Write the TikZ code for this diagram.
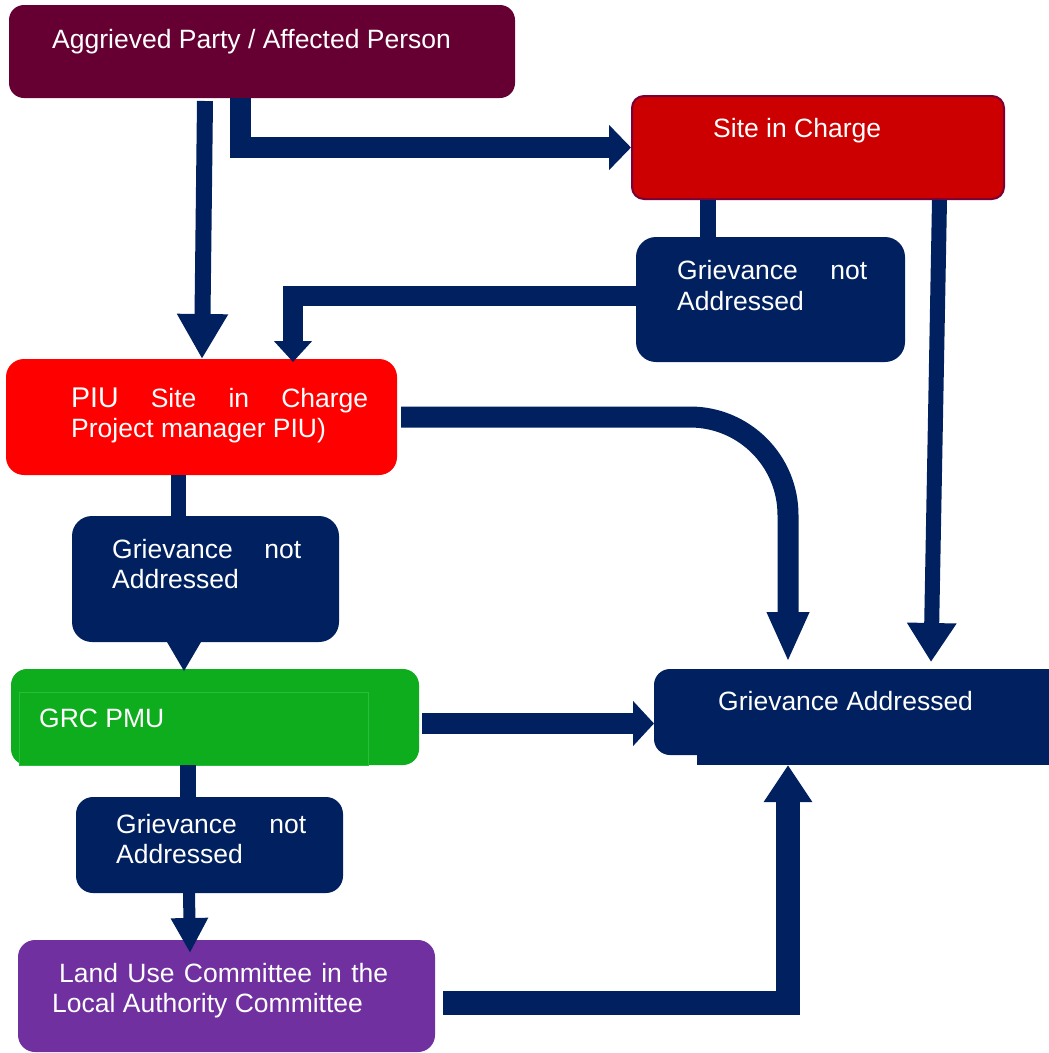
\documentclass[tikz,border=0pt]{standalone}
\usepackage{fontspec}
\setmainfont{Liberation Sans}
\usetikzlibrary{arrows.meta}
\definecolor{aggr}{HTML}{660033}
\definecolor{sitec}{HTML}{CC0000}
\definecolor{siteb}{HTML}{7A0036}
\definecolor{piuc}{HTML}{FF0000}
\definecolor{navy}{HTML}{002060}
\definecolor{grcc}{RGB}{14,173,30}
\definecolor{grcl}{RGB}{40,190,60}
\definecolor{landc}{HTML}{7030A0}
\begin{document}
\begin{tikzpicture}[x=1pt,y=-1pt,
  box/.style={rounded corners=#1, inner sep=0pt, outer sep=0pt, anchor=north west},
  txt/.style={text=white, font=\fontsize{26.5}{31}\selectfont, inner sep=0pt, anchor=base west},
  conn/.style={draw=navy, line join=miter}]
\useasboundingbox (0,0) rectangle (1049,1053);
\clip (0,0) rectangle (1049,1053);

% boxes
\node[box=15pt, fill=aggr, minimum width=506pt, minimum height=93pt] (agg) at (9,5) {};
\node[box=12pt, fill=sitec, draw=siteb, line width=2pt, minimum width=372pt, minimum height=103pt] (site) at (632,96) {};
\node[box=20pt, fill=navy, minimum width=269pt, minimum height=125pt] (g1) at (636,237) {};
\node[box=18pt, fill=piuc, minimum width=391pt, minimum height=116pt] (piu) at (6,359) {};
\node[box=20pt, fill=navy, minimum width=267pt, minimum height=126pt] (g2) at (72,516) {};
\node[box=16pt, fill=grcc, minimum width=408pt, minimum height=96pt] (grc) at (11,669) {};
\fill[grcc, draw=grcl, line width=0.8pt] ([xshift=8pt,yshift=-23pt]grc.north west) rectangle ([xshift=357pt]grc.south west);
\node[box=16pt, fill=navy, minimum width=410pt, minimum height=86pt] (ga) at (654,669) {};
\fill[navy] ([xshift=43pt]ga.north west) rectangle ([xshift=43pt,yshift=-10pt]ga.south east);
\node[box=17pt, fill=navy, minimum width=267pt, minimum height=96pt] (g3) at (76,797) {};
\node[box=17pt, fill=landc, minimum width=417pt, minimum height=112pt] (land) at (18,940) {};

% texts
\node[txt] (aggT) at (52,48) {Aggrieved Party / Affected Person};
\node[txt] (siteT) at (713,137) {Site in Charge};
\node[txt] (g1a) at (677,279) {\hbox to 190pt{Grievance\hfill not}};
\node[txt] (g1b) at (677,310) {Addressed};
\node[txt] (piuA) at (71,407) {\hbox to 297pt{{\fontsize{28.5}{31}\selectfont PIU}\hfill Site\hfill in\hfill Charge}};
\node[txt] (piuB) at (71,437) {Project manager PIU)};
\node[txt] (g2a) at (112,558) {\hbox to 189pt{Grievance\hfill not}};
\node[txt] (g2b) at (112,588) {Addressed};
\node[txt] (grcT) at (39,727) {GRC PMU};
\node[txt] (gaT) at (718,710) {Grievance Addressed};
\node[txt] (g3a) at (116,833) {\hbox to 190pt{Grievance\hfill not}};
\node[txt] (g3b) at (116,863) {Addressed};
\node[txt] (landA) at (59,982) {\makebox[329pt][s]{Land Use Committee in the}};
\node[txt] (landB) at (52,1012) {Local Authority Committee};

% connectors
\draw[conn, line width=16pt, -{Triangle[length=45pt,width=48pt]}]
  ([xshift=196pt,yshift=-3pt]agg.south west) -- ([xshift=196pt]piu.north west);
\draw[conn, line width=21pt, -{Triangle[length=22pt,width=44pt]}]
  ([xshift=231pt]agg.south west) |- ([xshift=-1pt]site.west);
\draw[conn, line width=15pt, -{Triangle[length=39pt,width=47pt]}]
  ([xshift=307.5pt,yshift=-1pt]site.south west) -- ([xshift=277pt,yshift=7pt]ga.north west);
\draw[conn, line width=16pt] ([xshift=76pt,yshift=-1pt]site.south west) -- ([xshift=72pt]g1.north west);
\draw[conn, line width=20pt, -{Triangle[length=21pt,width=37pt]}]
  ([yshift=3.5pt]g1.west) -| ([xshift=287pt,yshift=-3pt]piu.north west);
\draw[conn, line width=21pt, rounded corners=98pt, -{Triangle[length=50pt,width=39pt]}]
  ([xshift=4pt]piu.east) -| ([xshift=134pt,yshift=7pt]ga.north west);
\draw[conn, line width=15pt] ([xshift=172pt]piu.south west) -- ([xshift=106pt]g2.north west);
\fill[navy] ([xshift=95pt]g2.south west) -- ([xshift=129pt]g2.south west)
  -- ([xshift=173pt,yshift=-2pt]grc.north west) -- cycle;
\coordinate (grcout) at ([xshift=3pt,yshift=-6.5pt]grc.east);
\draw[conn, line width=21pt, -{Triangle[length=21pt,width=44pt]}]
  (grcout) -- (grcout -| ga.west);
\draw[conn, line width=16pt] ([xshift=177pt]grc.south west) -- ([xshift=112pt]g3.north west);
\draw[conn, line width=12pt, -{Triangle[length=35pt,width=35pt]}]
  ([xshift=113pt]g3.south west) -- ([xshift=172pt,yshift=-13pt]land.north west);
\draw[conn, line width=24pt, -{Triangle[length=37pt,width=46pt]}]
  ([xshift=8pt,yshift=-7pt]land.east) -| ([xshift=134pt,yshift=-10pt]ga.south west);
\end{tikzpicture}
\end{document}
